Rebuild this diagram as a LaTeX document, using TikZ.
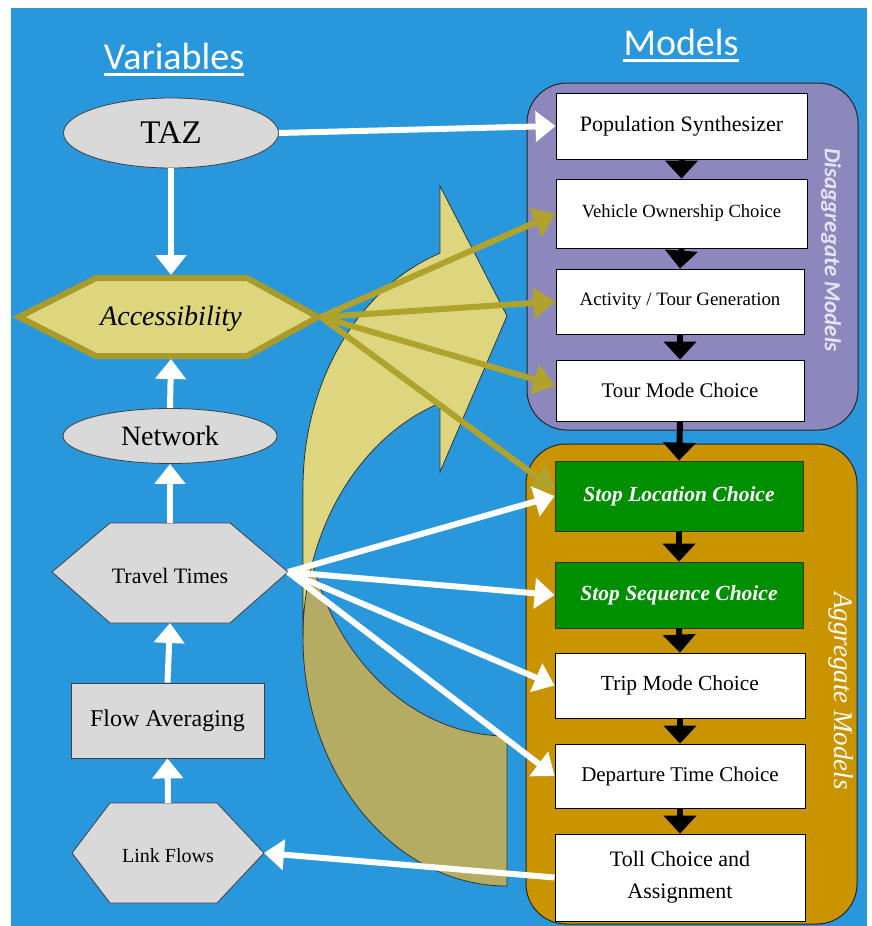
\documentclass[tikz,border=0pt]{standalone}
\usepackage{fontspec}
\setmainfont{Liberation Serif}
\newfontfamily\calib{Carlito}
\usetikzlibrary{arrows.meta,calc,shapes.geometric}
\definecolor{bgblue}{HTML}{2997DB}
\definecolor{boxgray}{HTML}{D9D9D9}
\definecolor{purp}{HTML}{8C87BC}
\definecolor{orng}{HTML}{C99400}
\definecolor{grn}{HTML}{008F00}
\definecolor{oliveA}{HTML}{AFA32E}
\definecolor{accfill}{HTML}{DDD67D}
\definecolor{accline}{HTML}{A89A2B}
\definecolor{lightarr}{HTML}{DDD67F}
\definecolor{darkarr}{HTML}{B4AC62}
\definecolor{lav}{HTML}{E6E4F2}
\newcommand\myfs[1]{\fontsize{#1}{#1}\selectfont}
\begin{document}
\begin{tikzpicture}[x=1pt,y=-1pt,
  gshape/.style={draw=black!75, fill=boxgray, line width=0.8pt},
  wbox/.style={draw=black, fill=white, line width=0.8pt, inner sep=0pt, align=center},
  gbox/.style={draw=black!80, fill=grn, line width=0.8pt, inner sep=0pt, text=white, font=\myfs{21.5}\bfseries\itshape},
  warrow/.style={draw=white, line width=6pt, -{Triangle[width=30pt,length=20pt]}},
  oarrow/.style={draw=oliveA, line width=6pt, -{Triangle[width=30pt,length=22pt]}},
  karrow/.style={draw=black, line width=6pt, -{Triangle[width=32pt,length=18pt]}},
  container/.style={draw=black!85, line width=1pt}
]
\useasboundingbox (0,0) rectangle (872,926);
\fill[white] (0,0) rectangle (872,926);
\fill[bgblue] (11,8) rectangle (867,926);

% titles
\node[font=\calib\myfs{38}, text=white, inner sep=0pt, anchor=base] (vtitle) at (174,69) {Variables};
\draw[white, line width=3pt] ($(vtitle.base west)+(0,5)$) -- ($(vtitle.base east)+(0,5)$);
\node[font=\calib\myfs{38}, text=white, inner sep=0pt, anchor=base] (mtitle) at (681,55) {Models};
\draw[white, line width=3pt] ($(mtitle.base west)+(0,5)$) -- ($(mtitle.base east)+(0,5)$);

% big curved arrow (two bands between vertically shifted ellipses)
\filldraw[fill=darkarr, draw=black!80, line width=0.8pt]
  (303,637.7) arc[start angle=180, end angle=90, x radius=204, y radius=248.3]
  -- (507,736) arc[start angle=90, end angle=180, x radius=204, y radius=248.3] -- cycle;
\filldraw[fill=lightarr, draw=black!80, line width=0.8pt]
  (303,487.7) arc[start angle=180, end angle=250.85, x radius=204, y radius=248.3]
  -- (440,186) -- (507,316) -- (440,472) -- (440,403)
  arc[start angle=250.85, end angle=180, x radius=204, y radius=248.3] -- cycle;

% containers
\filldraw[container, fill=purp, rounded corners=40pt] (527,83) rectangle (858,430);
\filldraw[container, fill=orng, rounded corners=40pt] (526,444) rectangle (857,924);
\node[rotate=-90, font=\calib\myfs{23}\bfseries\itshape, text=lav, inner sep=0pt] (dlab) at (831,250) {Disaggregate Models};
\node[rotate=-90, font=\myfs{27}\itshape, text=white, inner sep=0pt] (alab) at (841,691) {Aggregate Models};

% left column
\node[gshape, ellipse, minimum width=215pt, minimum height=70pt, inner sep=0pt, font=\myfs{33}] (taz) at (171,133) {TAZ};
\node[gshape, ellipse, minimum width=214pt, minimum height=55pt, inner sep=0pt, font=\myfs{28}] (net) at (170,436) {Network};

\filldraw[draw=accline, fill=accfill, line width=6pt, line join=miter]
  (19,317) -- (96,278) -- (247,278) -- (318,317) -- (247,356) -- (96,356) -- cycle;
\node[font=\myfs{28}\itshape, inner sep=0pt] (acc) at (171,319) {Accessibility};
\coordinate (acc-t) at (171,275);
\coordinate (acc-b) at (171,359);
\coordinate (acc-r) at (321,317);

\filldraw[gshape] (52,572) -- (110,523) -- (230,523) -- (288,572) -- (230,623) -- (110,623) -- cycle;
\node[font=\myfs{22}, inner sep=0pt] (tt) at (170,576) {Travel Times};
\coordinate (tt-t) at (170,523);
\coordinate (tt-b) at (170,623);
\coordinate (tt-r) at (288,572);

\node[gshape, rectangle, minimum width=193pt, minimum height=75pt, inner sep=0pt, font=\myfs{24}] (fa) at (167.5,720.5) {Flow Averaging};

\filldraw[gshape] (72,853) -- (110,803) -- (217,803) -- (264,853) -- (217,903) -- (110,903) -- cycle;
\node[font=\myfs{20}, inner sep=0pt] (lf) at (168,856) {Link Flows};
\coordinate (lf-t) at (168,803);
\coordinate (lf-r) at (264,853);

% model boxes
\node[wbox, minimum width=251pt, minimum height=66pt, font=\myfs{22}] (pop) at (681.5,126) {Population Synthesizer};
\node[wbox, minimum width=251pt, minimum height=69pt, font=\myfs{18.6}] (veh) at (681.5,213.5) {Vehicle Ownership Choice};
\node[wbox, minimum width=248pt, minimum height=65pt, font=\myfs{18.9}] (act) at (680,301.5) {Activity / Tour Generation};
\node[wbox, minimum width=248pt, minimum height=61pt, font=\myfs{20.8}] (tour) at (680,390.5) {Tour Mode Choice};
\node[gbox, minimum width=248pt, minimum height=70pt] (sl) at (679,496) {Stop Location Choice};
\node[gbox, minimum width=248pt, minimum height=66pt] (ss) at (679,595) {Stop Sequence Choice};
\node[wbox, minimum width=250pt, minimum height=65pt, font=\myfs{21.5}] (trip) at (680,685.5) {Trip Mode Choice};
\node[wbox, minimum width=250pt, minimum height=64pt, font=\myfs{21}] (dep) at (680,776) {Departure Time Choice};
\node[wbox, minimum width=250pt, minimum height=87pt, font=\fontsize{22}{32}\selectfont] (toll) at (680,877.5) {Toll Choice and\\Assignment};

% black flow arrows
\draw[karrow] (pop.south) -- (veh.north);
\draw[karrow] (veh.south) -- (act.north);
\draw[karrow] (act.south) -- (tour.north);
\draw[karrow] (tour.south) -- (sl.north);
\draw[karrow] (sl.south) -- (ss.north);
\draw[karrow] (ss.south) -- (trip.north);
\draw[karrow] (trip.south) -- (dep.north);
\draw[karrow] (dep.south) -- (toll.north);

% white arrows (left column)
\draw[warrow] (taz.south) -- (acc-t);
\draw[warrow] (net.north) -- (acc-b);
\draw[warrow] (tt-t) -- (net.south);
\draw[warrow] (fa.north) -- (tt-b);
\draw[warrow] (lf-t) -- (fa.south);
\draw[warrow] (toll.west) -- (lf-r);
\draw[warrow] (taz.east) -- (pop.west);

% olive arrows
\draw[oarrow] (acc-r) -- (veh.west);
\draw[oarrow] (acc-r) -- (act.west);
\draw[oarrow] (acc-r) -- ($(tour.west)+(0,-5)$);
\draw[oarrow] (acc-r) -- ($(sl.west)+(0,-6)$);

% travel time arrows
\draw[warrow] (tt-r) -- (sl.west);
\draw[warrow] (tt-r) -- (ss.west);
\draw[warrow] (tt-r) -- (trip.west);
\draw[warrow] (tt-r) -- (dep.west);
\end{tikzpicture}
\end{document}
